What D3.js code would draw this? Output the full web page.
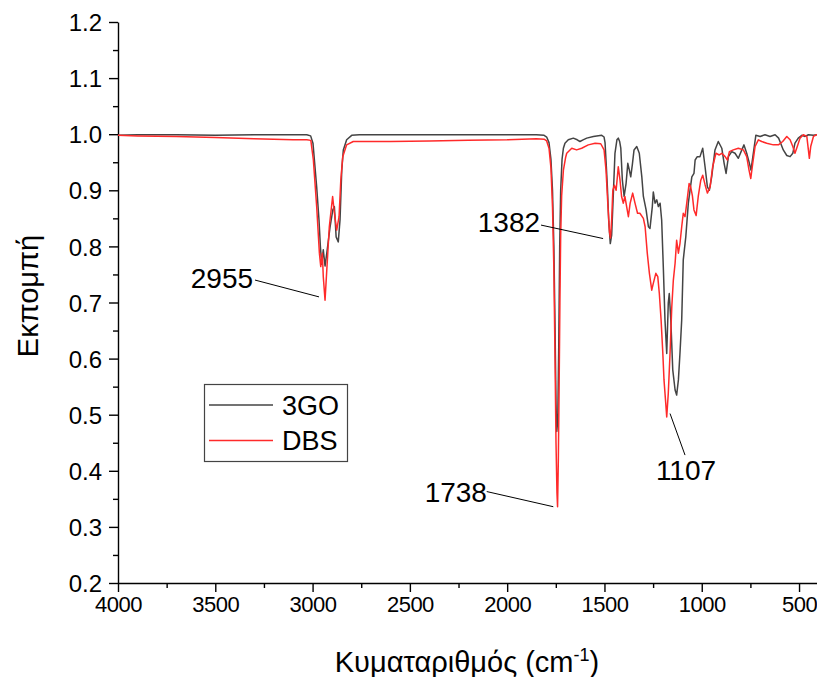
<html>
<head>
<meta charset="utf-8">
<title>FTIR 3GO / DBS</title>
<style>
  body { margin: 0; background: #fff; }
  svg text { font-family: "Liberation Sans", Arial, sans-serif; fill: #000; }
</style>
</head>
<body>
<svg id="svg" width="817" height="677"></svg>
<script src="https://d3js.org/d3.v7.min.js"></script>
<script>
// --- data ---
const xTicks = [4000, 3500, 3000, 2500, 2000, 1500, 1000, 500];
const yTicks = [0.2, 0.3, 0.4, 0.5, 0.6, 0.7, 0.8, 0.9, 1.0, 1.1, 1.2];

const wn3GO = [4000, 3900, 3700, 3500, 3300, 3100, 3030, 3010, 2998, 2979, 2967, 2960, 2953, 2945, 2936, 2927, 2910, 2896, 2888, 2879, 2868, 2859, 2850, 2842, 2825, 2799, 2760, 2600, 2400, 2200, 2000, 1850, 1810, 1797, 1785, 1775, 1767, 1760, 1754, 1749, 1745, 1740, 1735, 1730, 1725, 1718, 1711, 1703, 1686, 1660, 1640, 1626, 1610, 1591, 1557, 1514, 1502, 1497, 1490, 1485, 1478, 1470, 1463, 1457, 1446, 1436, 1429, 1422, 1416, 1408, 1399, 1389, 1380, 1372, 1365, 1357, 1348, 1334, 1321, 1308, 1300, 1286, 1274, 1266, 1254, 1249, 1240, 1231, 1223, 1214, 1206, 1197, 1189, 1180, 1172, 1167, 1159, 1149, 1137, 1129, 1120, 1112, 1103, 1095, 1082, 1069, 1051, 1040, 1034, 1023, 1009, 995, 983, 971, 961, 949, 932, 915, 897, 885, 875, 863, 846, 829, 812, 794, 783, 769, 755, 747, 735, 722, 700, 675, 649, 623, 605, 598, 581, 563, 546, 532, 521, 504, 486, 469, 452, 426, 409, 400];
const t3GO = [0.998, 0.999, 0.999, 0.998, 0.999, 0.999, 0.999, 0.997, 0.984, 0.906, 0.847, 0.800, 0.768, 0.794, 0.765, 0.788, 0.835, 0.865, 0.871, 0.817, 0.808, 0.847, 0.936, 0.972, 0.990, 0.998, 0.999, 0.999, 0.999, 0.999, 0.999, 0.999, 0.998, 0.995, 0.985, 0.955, 0.900, 0.800, 0.657, 0.520, 0.470, 0.490, 0.620, 0.800, 0.900, 0.955, 0.975, 0.984, 0.990, 0.993, 0.990, 0.987, 0.990, 0.993, 0.996, 0.998, 0.995, 0.985, 0.940, 0.906, 0.845, 0.805, 0.820, 0.871, 0.966, 0.990, 0.993, 0.987, 0.975, 0.918, 0.889, 0.912, 0.948, 0.936, 0.924, 0.945, 0.972, 0.978, 0.966, 0.924, 0.889, 0.865, 0.835, 0.832, 0.871, 0.897, 0.877, 0.883, 0.871, 0.877, 0.847, 0.758, 0.669, 0.609, 0.699, 0.716, 0.669, 0.580, 0.544, 0.535, 0.562, 0.609, 0.669, 0.776, 0.817, 0.877, 0.924, 0.930, 0.954, 0.960, 0.960, 0.975, 0.942, 0.906, 0.900, 0.924, 0.972, 0.987, 0.975, 0.948, 0.930, 0.960, 0.969, 0.966, 0.957, 0.972, 0.981, 0.966, 0.948, 0.936, 0.966, 0.998, 0.996, 0.999, 0.996, 0.999, 0.993, 0.987, 0.972, 0.962, 0.960, 0.966, 0.984, 0.993, 0.998, 0.996, 0.999, 0.998, 0.999, 0.999];

const wnDBS = [4000, 3900, 3700, 3500, 3300, 3100, 3030, 3009, 2996, 2979, 2965, 2958, 2950, 2945, 2936, 2927, 2914, 2897, 2888, 2876, 2864, 2855, 2845, 2825, 2791, 2756, 2600, 2400, 2200, 2000, 1850, 1810, 1797, 1785, 1775, 1767, 1760, 1754, 1749, 1744, 1741, 1737, 1733, 1729, 1725, 1720, 1711, 1700, 1694, 1668, 1643, 1617, 1583, 1548, 1519, 1502, 1492, 1482, 1474, 1469, 1463, 1457, 1449, 1440, 1429, 1420, 1412, 1403, 1395, 1386, 1377, 1368, 1355, 1343, 1330, 1318, 1300, 1291, 1280, 1269, 1257, 1249, 1236, 1226, 1218, 1209, 1200, 1194, 1185, 1180, 1172, 1163, 1154, 1146, 1137, 1129, 1120, 1112, 1103, 1095, 1086, 1077, 1065, 1057, 1048, 1040, 1029, 1018, 1005, 995, 983, 971, 957, 944, 927, 910, 897, 880, 868, 858, 838, 812, 786, 769, 757, 748, 738, 726, 709, 692, 666, 632, 606, 584, 563, 546, 532, 521, 509, 495, 478, 460, 452, 447, 440, 426, 409, 400];
const tDBS = [0.998, 0.997, 0.996, 0.994, 0.992, 0.990, 0.990, 0.989, 0.954, 0.871, 0.788, 0.764, 0.788, 0.746, 0.704, 0.758, 0.835, 0.889, 0.860, 0.829, 0.853, 0.918, 0.960, 0.981, 0.987, 0.987, 0.987, 0.988, 0.989, 0.990, 0.992, 0.991, 0.988, 0.975, 0.940, 0.870, 0.760, 0.600, 0.450, 0.360, 0.336, 0.420, 0.550, 0.700, 0.820, 0.890, 0.936, 0.958, 0.966, 0.975, 0.972, 0.975, 0.981, 0.984, 0.983, 0.972, 0.936, 0.871, 0.825, 0.815, 0.847, 0.900, 0.909, 0.900, 0.942, 0.918, 0.889, 0.877, 0.889, 0.871, 0.853, 0.877, 0.895, 0.877, 0.859, 0.859, 0.850, 0.835, 0.788, 0.752, 0.722, 0.734, 0.752, 0.746, 0.716, 0.669, 0.609, 0.562, 0.520, 0.496, 0.538, 0.609, 0.692, 0.740, 0.770, 0.811, 0.788, 0.805, 0.835, 0.859, 0.853, 0.877, 0.912, 0.906, 0.890, 0.865, 0.855, 0.889, 0.918, 0.927, 0.910, 0.895, 0.906, 0.942, 0.966, 0.963, 0.966, 0.960, 0.954, 0.969, 0.972, 0.975, 0.972, 0.960, 0.936, 0.921, 0.948, 0.978, 0.990, 0.987, 0.984, 0.981, 0.981, 0.987, 0.996, 0.990, 0.978, 0.966, 0.978, 0.993, 0.999, 0.996, 0.972, 0.957, 0.978, 0.996, 0.999, 0.999];

const seriesNames = ["3GO", "DBS"];
const seriesColors = ["#444444", "#ff2a2a"];

// peak labels: text, label anchor (wavenumber, value), leader line end (wavenumber, value)
const peakLabels = ["2955", "1382", "1738", "1107"];
const peakTextAt = [[3306, 0.744], [1831, 0.8435], [2104, 0.362], [1081, 0.401]];
const peakLineFrom = [[3296, 0.740], [1826, 0.838], [2105, 0.363], [1163, 0.502]];
const peakLineTo = [[2967, 0.710], [1507, 0.814], [1763, 0.336], [1086, 0.428]];

// --- chart ---
const svg = d3.select("#svg");
const x = d3.scaleLinear().domain([4000, 400]).range([118, 818.5]);
const y = d3.scaleLinear().domain([0.2, 1.2]).range([583, 22]);

const minorX = d3.range(3750, 400, -500);
const minorY = d3.range(0.25, 1.2, 0.1);

// minor ticks
svg.append("g")
    .attr("transform", "translate(0,583)")
    .call(d3.axisBottom(x).tickValues(minorX).tickSize(5).tickFormat(""))
    .call(g => g.select(".domain").remove());
svg.append("g")
    .attr("transform", "translate(118,0)")
    .call(d3.axisLeft(y).tickValues(minorY).tickSize(5).tickFormat(""))
    .call(g => g.select(".domain").remove());

const xAxis = svg.append("g")
    .attr("transform", "translate(0,583)")
    .call(d3.axisBottom(x).tickValues(xTicks).tickSize(9).tickSizeOuter(0).tickPadding(4).tickFormat(d3.format("d")));
const yAxis = svg.append("g")
    .attr("transform", "translate(118,0)")
    .call(d3.axisLeft(y).tickValues(yTicks).tickSize(9).tickSizeOuter(0).tickPadding(7).tickFormat(d3.format(".1f")));

svg.selectAll(".tick line, .domain").attr("stroke", "#000").attr("stroke-width", 1.4);
xAxis.selectAll("text").style("font-size", "22px").style("letter-spacing", "-0.5px").attr("fill", "#000");
yAxis.selectAll("text").style("font-size", "24px").attr("fill", "#000").attr("dy", "0.36em");

// spectra
const line = d3.line()
    .x(d => x(d[0]))
    .y(d => y(d[1]));

const series = [
  d3.zip(wn3GO, t3GO),
  d3.zip(wnDBS, tDBS)
];

svg.append("g").selectAll("path")
    .data(series)
    .join("path")
    .attr("fill", "none")
    .attr("stroke", (d, i) => seriesColors[i])
    .attr("stroke-width", 1.5)
    .attr("stroke-linejoin", "round")
    .attr("d", line);

// peak annotations
const ann = svg.append("g");
peakLabels.forEach((lab, i) => {
  ann.append("line")
      .attr("x1", x(peakLineFrom[i][0])).attr("y1", y(peakLineFrom[i][1]))
      .attr("x2", x(peakLineTo[i][0])).attr("y2", y(peakLineTo[i][1]))
      .attr("stroke", "#000").attr("stroke-width", 1);
  ann.append("text")
      .attr("x", x(peakTextAt[i][0])).attr("y", y(peakTextAt[i][1]))
      .attr("dy", "0.36em")
      .attr("text-anchor", i === 3 ? "middle" : "end")
      .style("font-size", "28px")
      .text(lab);
});

// legend
const leg = svg.append("g");
leg.append("rect")
    .attr("x", 204.5).attr("y", 384.5).attr("width", 143).attr("height", 77)
    .attr("fill", "#fff").attr("stroke", "#444").attr("stroke-width", 1.2);
seriesNames.forEach((name, i) => {
  const ly = 405 + i * 35.5;
  leg.append("line")
      .attr("x1", 209).attr("x2", 273).attr("y1", ly).attr("y2", ly)
      .attr("stroke", seriesColors[i]).attr("stroke-width", 1.5);
  leg.append("text")
      .attr("x", 282).attr("y", ly).attr("dy", "0.36em")
      .style("font-size", "27px")
      .text(name);
});

// axis titles
const xt = svg.append("text")
    .attr("x", 467).attr("y", 672)
    .attr("text-anchor", "middle")
    .style("font-size", "29px");
xt.append("tspan").text("Κυματαριθμός (cm");
xt.append("tspan").attr("dy", -11).style("font-size", "18px").text("-1");
xt.append("tspan").attr("dy", 11).text(")");

svg.append("text")
    .attr("transform", "translate(38,296) rotate(-90)")
    .attr("text-anchor", "middle")
    .style("font-size", "29px")
    .text("Εκπομπή");
</script>
</body>
</html>
